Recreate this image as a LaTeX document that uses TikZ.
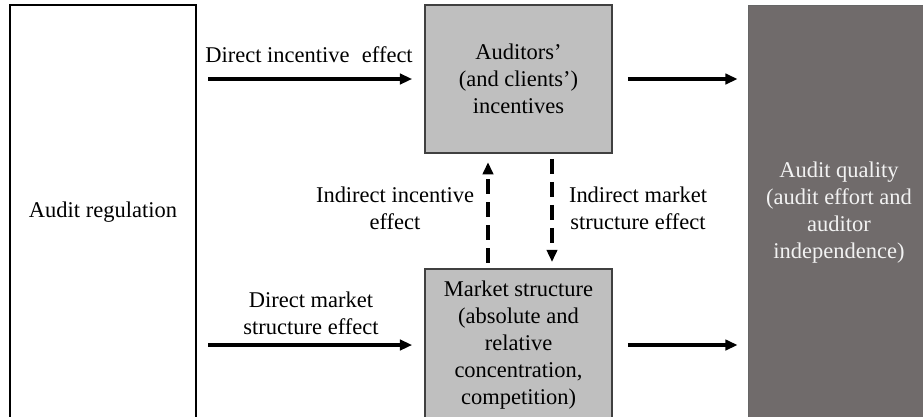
\documentclass[tikz,border=0pt]{standalone}
\usepackage{fontspec}
\setmainfont{Liberation Serif}
\usepackage{tikz}
\usetikzlibrary{arrows.meta, calc}
\definecolor{boxgray}{RGB}{191,191,191}
\definecolor{qualgray}{RGB}{112,107,107}
\tikzset{>={Triangle[length=6.5pt,width=5.5pt]}}
\tikzset{
  regbox/.style={draw=black, line width=1.3pt, fill=white, minimum width=3.49cm, minimum height=7.78cm, inner sep=0pt},
  midbox/.style={draw=black!75, line width=0.8pt, fill=boxgray, minimum width=3.51cm, inner sep=0pt, align=center},
  qualbox/.style={draw=black!60, line width=0.6pt, fill=qualgray, minimum width=3.41cm, minimum height=7.78cm, inner sep=0pt, align=center, text=white!90!gray},
  effarrow/.style={->, line width=1.8pt},
  dasharrow/.style={->, line width=2pt, dash pattern=on 8pt off 4.3pt},
  efftext/.style={align=center}
}

\begin{document}
\begin{tikzpicture}[x=0.01875cm, y=-0.01875cm, font=\fontsize{12}{14.4}\selectfont]
                \useasboundingbox (0,0) rectangle (923,416);

                \node[regbox] (reg) at (103, 212.5) {Audit regulation};
                \node[midbox, minimum height=2.775cm] (inc) at (518.5, 79) {Auditors'\\(and clients')\\incentives};
                \node[midbox, minimum height=2.85cm, anchor=north] (mkt) at (518.5, 268)
                    {Market structure\\(absolute and\\relative\\concentration,\\competition)};
                \node[qualbox] (qual) at (839, 212.5) {Audit quality\\(audit effort and\\auditor\\independence)};

                % direct effects
                \draw[effarrow, shorten <=5.9pt, shorten >=6.4pt] (reg.east |- inc.west) -- (inc.west);
                \draw[effarrow, shorten <=5.9pt, shorten >=6.4pt] (reg.east |- 0,345) coordinate (mktin) -- (mktin -| mkt.west);
                \node[efftext] (dinc) at (309, 55) {Direct incentive\hspace{0.3em} effect};
                \node[efftext] (dmkt) at (311, 313) {Direct market\\structure effect};

                % effects on audit quality
                \draw[effarrow, shorten <=8pt, shorten >=5.3pt] (inc.east) -- (inc.east -| qual.west);
                \draw[effarrow, shorten <=8pt, shorten >=5.3pt] (mkt.east |- mktin) -- (mktin -| qual.west);

                % indirect effects
                \draw[dasharrow, shorten <=2.7pt, shorten >=4.5pt] (mkt.north -| 488,0) coordinate (up) -- (up |- inc.south);
                \draw[dasharrow, shorten <=2.7pt, shorten >=3.2pt] (inc.south -| 552,0) coordinate (down) -- (down |- mkt.north);
                \node[efftext] (iinc) at (395, 208) {Indirect incentive\\effect};
                \node[efftext] (imkt) at (638, 208) {Indirect market\\structure effect};
            \end{tikzpicture}
\end{document}
